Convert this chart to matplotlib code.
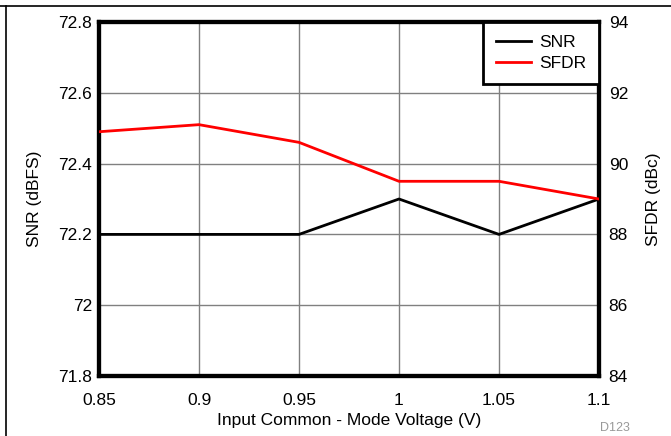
import matplotlib
matplotlib.use("Agg")
from matplotlib import pyplot as plt
from matplotlib.lines import Line2D

plt.rcParams['font.family'] = ['Liberation Sans', 'DejaVu Sans']

# Dados
vcm = [0.85, 0.9, 0.95, 1.0, 1.05, 1.1]
snr = [72.2, 72.2, 72.2, 72.3, 72.2, 72.3]
sfdr = [90.9, 91.1, 90.6, 89.5, 89.5, 89.0]

x_ticks = [0.85, 0.9, 0.95, 1.0, 1.05, 1.1]
x_labels = ["0.85", "0.9", "0.95", "1", "1.05", "1.1"]
snr_ticks = [71.8, 72.0, 72.2, 72.4, 72.6, 72.8]
snr_labels = ["71.8", "72", "72.2", "72.4", "72.6", "72.8"]
sfdr_ticks = [84, 86, 88, 90, 92, 94]

fs = 12.5

fig = plt.figure(figsize=(6.71, 4.36), dpi=100)
ax = fig.add_axes([99 / 671, 1 - 376 / 436, 500 / 671, 354 / 436])
ax2 = ax.twinx()

ax.plot(vcm, snr, color="black", lw=2, zorder=3)
ax2.plot(vcm, sfdr, color="red", lw=2, zorder=3)

ax.set_xlim(0.85, 1.1)
ax.set_ylim(71.8, 72.8)
ax2.set_ylim(84, 94)
ax.set_xticks(x_ticks, x_labels)
ax.set_yticks(snr_ticks, snr_labels)
ax2.set_yticks(sfdr_ticks, [str(t) for t in sfdr_ticks])

ax.grid(True, color="#808080", lw=1)
ax.set_axisbelow(True)
for a in (ax, ax2):
    a.tick_params(length=0, labelsize=fs)
    for s in a.spines.values():
        s.set_linewidth(3)
ax.tick_params(axis="y", pad=5)
ax.tick_params(axis="x", pad=12)
ax2.tick_params(axis="y", pad=7)

ax.set_xlabel("Input Common - Mode Voltage (V)", fontsize=fs, labelpad=4)
ax.set_ylabel("SNR (dBFS)", fontsize=fs, labelpad=12)
ax2.set_ylabel("SFDR (dBc)", fontsize=fs, labelpad=13)

handles = [Line2D([], [], color="black", lw=2), Line2D([], [], color="red", lw=2)]
leg = ax2.legend(handles, ["SNR", "SFDR"], loc="upper right", fontsize=fs,
                 fancybox=False, framealpha=1, edgecolor="black",
                 borderaxespad=0, handlelength=2.0, handletextpad=0.5,
                 labelspacing=0.38, borderpad=0.72)
leg.get_frame().set_linewidth(2)

fig.text(630 / 671, 1 - 428 / 436, "D123", color="#999999", fontsize=9,
         ha="right", va="center")

# moldura parcial da figura (topo e esquerda)
fig.add_artist(Line2D([0, 1], [1 - 6 / 436, 1 - 6 / 436], color="black", lw=1.2,
                      transform=fig.transFigure))
fig.add_artist(Line2D([6 / 671, 6 / 671], [0, 1 - 6 / 436], color="black", lw=1.2,
                      transform=fig.transFigure))

plt.savefig("out.png", dpi=100)
plt.close()
